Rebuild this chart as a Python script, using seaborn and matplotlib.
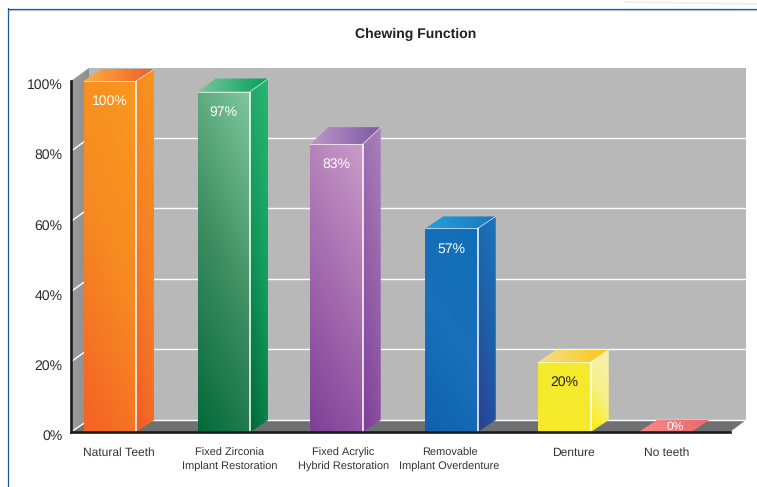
import numpy as np
import matplotlib
matplotlib.use("Agg")
import matplotlib.pyplot as plt
import matplotlib.transforms as mtrans
import seaborn as sns
from matplotlib.colors import LinearSegmentedColormap
from matplotlib.lines import Line2D
from matplotlib.patches import Polygon

# ---------- data ----------
categories = ["Natural Teeth", "Fixed Zirconia", "Fixed Acrylic", "Removable", "Denture", "No teeth"]
tick_labels = ["Natural Teeth", "Fixed Zirconia\nImplant Restoration", "Fixed Acrylic\nHybrid Restoration",
               "Removable\nImplant Overdenture", "Denture", "No teeth"]
values = [100, 97, 82, 58, 20, 0]
value_labels = ["100%", "97%", "83%", "57%", "20%", "0%"]
y_ticks = [0, 20, 40, 60, 80, 100]
title = "Chewing Function"

# ---------- layout (pixels of the 757x487 picture) ----------
W, H = 757, 487
AX_L, AX_R, AX_B, AX_T = 71, 730, 432, 81
PX_PER_CAT = 111.0
FIRST_CENTER = 110.0
BAR_NUDGE_PX = [0, 3, 4.5, 8.5, 10.5, 0]
TICK_SHIFT_PX = [9, 6, 7, -2, 9, 2]
TOP_RISE_PX = [12, 13, 17, 12, 12, 12]
BAR_W_PX = 52.5
DEPTH_PX = (18, 12)
WALL_R, WALL_T = 746, 68
label_colors = ["white", "white", "white", "white", "#231f20", "white"]

front_cols = [["#f9971f", "#f68a22", "#f46126"],
              ["#7fc79c", "#3f8f63", "#04693b"],
              ["#c99bc9", "#a36cae", "#7f3f98"],
              ["#0f6fb8", "#1a70b9", "#0f62ae"],
              ["#f5ea2c", "#f5ea2c", "#f5ea2c"],
              ["#f58583", "#f58583", "#f58583"]]
side_cols = [["#f8951c", "#f68024", "#f15a25"],
             ["#2cb673", "#129a5c", "#006838"],
             ["#a983bb", "#9560a8", "#7f3f98"],
             ["#1b75bc", "#1d5fa8", "#2b3f94"],
             ["#f6f3b5", "#f6f08a", "#ffec00"],
             ["#f58583", "#f58583", "#f58583"]]
top_cols = [["#fbb040", "#f15a29"],
            ["#7cc79c", "#009e5a"],
            ["#c096c6", "#7a5aa5"],
            ["#22a0de", "#1c78bd"],
            ["#f3e08f", "#fdc616"],
            ["#f58a88", "#ee686b"]]

sns.set_theme(style="white")
plt.rcParams["font.family"] = ["Liberation Sans", "DejaVu Sans"]
plt.rcParams["text.hinting"] = "no_hinting"
plt.rcParams["text.hinting_factor"] = 1

fig = plt.figure(figsize=(W / 100, H / 100), dpi=100, facecolor="white")
ax = fig.add_axes([AX_L / W, 1 - AX_B / H, (AX_R - AX_L) / W, (AX_B - AX_T) / H])
ax.patch.set_visible(False)

sns.barplot(x=categories, y=values, order=categories, width=BAR_W_PX / PX_PER_CAT,
            color="#888888", saturation=1, ax=ax, zorder=3)

xlim = ((AX_L - FIRST_CENTER) / PX_PER_CAT, (AX_R - FIRST_CENTER) / PX_PER_CAT)
ylim = (0, 100)
PX_PER_VAL = (AX_B - AX_T) / 100.0
dx = DEPTH_PX[0] / PX_PER_CAT
dy = DEPTH_PX[1] / PX_PER_VAL


def px2x(p):
    return (p - FIRST_CENTER) / PX_PER_CAT


def px2y(p):
    return (AX_B - p) / PX_PER_VAL


def gradient(verts, cols, z, angle=0.25, horizontal=False):
    """Fill a polygon (data coordinates) with a linear gradient."""
    verts = np.asarray(verts, float)
    x0, x1 = verts[:, 0].min(), verts[:, 0].max()
    y0, y1 = verts[:, 1].min(), verts[:, 1].max()
    u, v = np.meshgrid(np.linspace(0, 1, 64), np.linspace(0, 1, 128))
    t = u if horizontal else v * (1 - angle) + (1 - u) * angle
    cmap = LinearSegmentedColormap.from_list("g", cols)
    poly = Polygon(verts, closed=True, transform=ax.transData, fc="none", ec="none")
    im = ax.imshow(t, cmap=cmap, vmin=0, vmax=1, extent=(x0, x1, y0, y1), origin="upper",
                   aspect="auto", zorder=z, interpolation="bilinear")
    im.set_clip_path(poly)
    im.set_clip_box(fig.bbox)
    return im


def flat(verts, col, z):
    ax.add_patch(Polygon(verts, closed=True, fc=col, ec="none", zorder=z, clip_on=False))


# walls and floor
xl, xr = xlim
wr, wt = px2x(WALL_R), px2y(WALL_T)
flat([(xl + dx, dy), (wr, dy), (wr, wt), (xl + dx, wt)], "#b8b8b8", 0)
gradient([(xl, 0), (xl + dx, dy), (xl + dx, wt), (xl, 100)], ["#9c9c9c", "#8e8e8e"], 0.5, horizontal=True)
flat([(xl, 0), (xr, 0), (wr, dy), (xl + dx, dy)], "#6f7072", 1)

# gridlines on the walls, from the tick values
for tk in y_ticks[:-1]:
    gy = tk + dy + (1 / PX_PER_VAL if tk > 0 else 0)
    ax.plot([xl + dx, wr], [gy, gy], color="white", lw=1.0, zorder=1.5, clip_on=False, solid_capstyle="butt")
    ax.plot([xl, xl + dx], [tk, gy], color="white", lw=1.0, zorder=1.5, clip_on=False, solid_capstyle="butt")

# bars: the seaborn bars give the front faces, extruded here
centers = []
for i, (patch, val) in enumerate(zip(ax.patches[:len(values)], values)):
    patch.set_x(patch.get_x() + BAR_NUDGE_PX[i] / PX_PER_CAT)
    x0, w = patch.get_x(), patch.get_width()
    x1 = x0 + w
    h = patch.get_height()
    rise = TOP_RISE_PX[i] / PX_PER_VAL
    centers.append(x0 + w / 2)
    patch.set_facecolor(front_cols[i][1])
    patch.set_edgecolor("none")
    top = [(x0, h), (x1, h), (x1 + dx, h + rise), (x0 + dx, h + rise)]
    gradient(top, top_cols[i], 3.2, horizontal=True)
    if h > 0:
        front = [(x0, 0), (x1, 0), (x1, h), (x0, h)]
        side = [(x1, 0), (x1 + dx, dy), (x1 + dx, h + rise), (x1, h)]
        gradient(side, side_cols[i], 3.1)
        gradient(front, front_cols[i], 3.3)
        ax.plot([x1, x1], [0, h], color="white", lw=1.1, zorder=3.6, clip_on=False, solid_capstyle="butt")
        ax.plot([x0, x1], [h, h], color="white", lw=0.6, alpha=0.8, zorder=3.6, clip_on=False)
        ax.plot([x1, x1 + dx], [h, h + rise], color="white", lw=0.6, alpha=0.7, zorder=3.6, clip_on=False)

# value labels
for i, (c, val, lab) in enumerate(zip(centers, values, value_labels)):
    off = (-0.5, -20.5) if val > 0 else (10, 5.5)
    ax.annotate(lab, xy=(c, val), xytext=(off[0] * 0.72, off[1] * 0.72), textcoords="offset points",
                ha="center", va="center", color=label_colors[i],
                fontsize=10 if val > 0 else 8.8, zorder=6, annotation_clip=False)

# axes
ax.set_xlim(*xlim)
ax.set_ylim(*ylim)
ax.set_xlabel("")
ax.set_ylabel("")
tick_pos = [c + s / PX_PER_CAT for c, s in zip(centers, TICK_SHIFT_PX)]
ax.set_xticks(tick_pos, tick_labels)
ax.set_yticks(y_ticks, [f"{t}%" for t in y_ticks])
ax.tick_params(axis="x", length=0, pad=10.6, labelcolor="#333333")
ax.tick_params(axis="y", length=0, pad=6.0, labelsize=10, labelcolor="#2b2b2b")
two_line_down = mtrans.ScaledTranslation(0, -1.5 / 100, fig.dpi_scale_trans)
for t in ax.get_xticklabels():
    t.set_linespacing(1.45)
    if "\n" in t.get_text():
        t.set_fontsize(8.15)
        t.set_transform(t.get_transform() + two_line_down)
    else:
        t.set_fontsize(8.6)
shift_down = mtrans.ScaledTranslation(0, -3 / 100, fig.dpi_scale_trans)
for t in ax.get_yticklabels():
    t.set_transform(t.get_transform() + shift_down)
sns.despine(ax=ax)
for s in ("left", "bottom"):
    ax.spines[s].set_color("#1c1c1c")
    ax.spines[s].set_linewidth(1.9)
    ax.spines[s].set_zorder(5)

# title and page frame
fig.text(416 / W, 1 - 34.5 / H, title, ha="center", va="center", fontsize=10.4,
         fontweight="bold", color="#231f20")
fig.add_artist(Line2D([7.5 / W, 1], [1 - 9.5 / H, 1 - 9.5 / H], color="#c3d2e4", lw=0.8))
fig.add_artist(Line2D([7.5 / W, 1], [1 - 8.5 / H, 1 - 8.5 / H], color="#1f5a96", lw=0.9))
fig.add_artist(Line2D([7.5 / W, 7.5 / W], [0, 1 - 8 / H], color="#1f5a96", lw=0.9))
fig.add_artist(Line2D([625 / W, 757 / W], [1 - 2 / H, 1 - 4 / H], color="#eef0f6", lw=1.5))

fig.savefig("out.png", dpi=100, facecolor="white")
